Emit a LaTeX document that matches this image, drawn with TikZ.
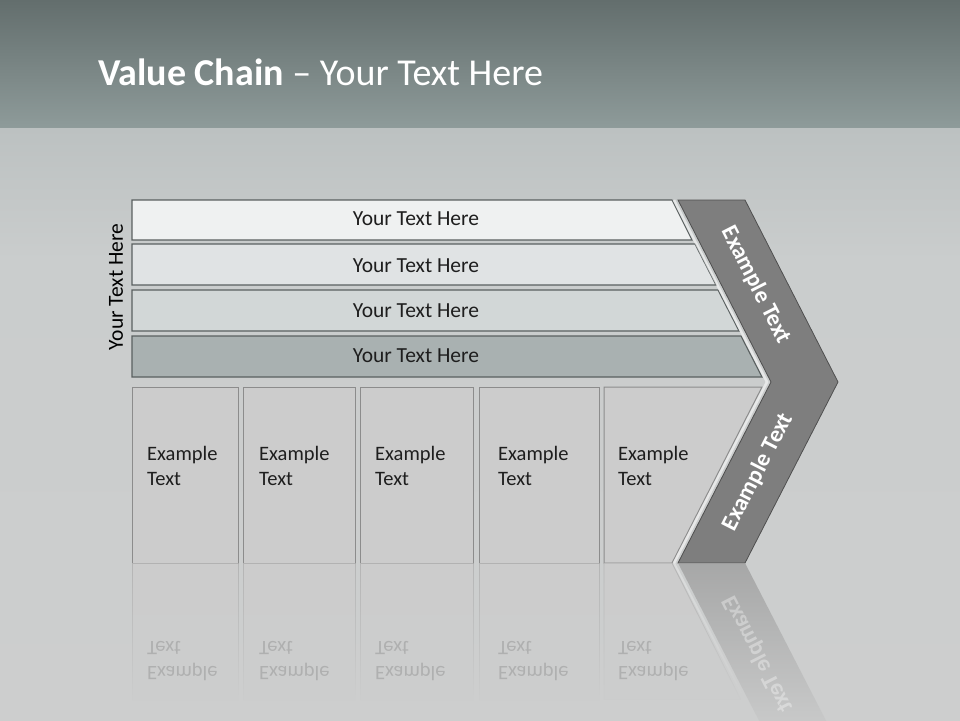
\documentclass[tikz,border=0pt]{standalone}
\usepackage{fontspec}
\setmainfont{Carlito}
\usetikzlibrary{fadings}
\definecolor{bgA}{HTML}{636E6D}
\definecolor{bgB}{HTML}{8E9B9A}
\definecolor{bgC}{HTML}{BCC1C1}
\definecolor{bgD}{HTML}{CACDCD}
\definecolor{bgE}{HTML}{CDCECE}
\definecolor{barline}{HTML}{5A6060}
\definecolor{barA}{HTML}{EFF1F1}
\definecolor{barB}{HTML}{E0E3E4}
\definecolor{barC}{HTML}{D2D7D7}
\definecolor{barD}{HTML}{A9B1B1}
\definecolor{boxfill}{HTML}{CCCCCC}
\definecolor{boxline}{HTML}{8C8C8C}
\definecolor{chev}{HTML}{7E7E7E}
\definecolor{chevline}{HTML}{4F4F4F}
\definecolor{txt}{HTML}{1E1E1E}
\tikzfading[name=reflfade, top color=transparent!20, bottom color=transparent!100]
\begin{document}
\begin{tikzpicture}[x=1pt,y=-1pt,
  bar/.style={draw=barline, line width=1.1pt},
  bartext/.style={font=\fontsize{21.5}{24}\selectfont, text=txt},
  boxshape/.style={fill=boxfill, draw=boxline, line width=1pt},
  boxtext/.style={font=\fontsize{20.5}{25}\selectfont, text=txt, align=left, anchor=base west, inner sep=0pt},
  chevshape/.style={fill=chev, draw=chevline, line width=0.8pt},
  chevtext/.style={font=\bfseries\fontsize{23.5}{26}\selectfont, text=white},
  reflbox/.style={fill=boxfill, draw=boxline!70, line width=0.8pt, path fading=reflfade},
]
\useasboundingbox (0,0) rectangle (960,720);
% background
\shade[top color=bgA, bottom color=bgB] (0,0) rectangle (960,128);
\shade[top color=bgC, bottom color=bgD] (0,128) rectangle (960,260);
\shade[top color=bgD, bottom color=bgE] (0,260) rectangle (960,720);
% title
\node[anchor=base west, text=white, font=\fontsize{38}{42}\selectfont, inner sep=0pt] (title) at (98,85) {\textbf{Value Chain} – Your Text Here};
% side label
\node[rotate=90, font=\fontsize{21.5}{24}\selectfont, text=black] (side) at (116,287) {Your Text Here};
% bars
\path[bar, fill=barA] (132,200) -- (672,200) -- (692,240) -- (132,240) -- cycle;
\path[bar, fill=barB] (132,244) -- (695,244) -- (716,285) -- (132,285) -- cycle;
\path[bar, fill=barC] (132,290) -- (718,290) -- (739,331) -- (132,331) -- cycle;
\path[bar, fill=barD] (132,336) -- (741,336) -- (762,377) -- (132,377) -- cycle;
\node[bartext] (t1) at (416,219) {Your Text Here};
\node[bartext] (t2) at (416,266) {Your Text Here};
\node[bartext] (t3) at (416,311) {Your Text Here};
\node[bartext] (t4) at (416,356) {Your Text Here};
% boxes
\path[boxshape] (132,387) rectangle (238,563);
\path[boxshape] (243,387) rectangle (355,563);
\path[boxshape] (360,387) rectangle (473,563);
\path[boxshape] (479,387) rectangle (599,563);
\path[boxshape] (604,387) -- (762,387) -- (672,563) -- (604,563) -- cycle;
\node[boxtext] (b1) at (147,485) {Example\\Text};
\node[boxtext] (b2) at (259,485) {Example\\Text};
\node[boxtext] (b3) at (375,485) {Example\\Text};
\node[boxtext] (b4) at (498,485) {Example\\Text};
\node[boxtext] (b5) at (618,485) {Example\\Text};
% highlight strip along chevron
\draw[white, opacity=0.55, line width=2.5pt] (674,200) -- (767,382) -- (674,563);
% chevron
\path[chevshape] (678,200) -- (745,200) -- (838,382) -- (745,563) -- (678,563) -- (771,382) -- cycle;
\node[chevtext, rotate=-63] (c1) at (756,285) {Example Text};
\node[chevtext, rotate=63] (c2) at (758,472) {Example Text};
% reflections
\path[reflbox] (132,563) rectangle (238,700);
\path[reflbox] (243,563) rectangle (355,700);
\path[reflbox] (360,563) rectangle (473,700);
\path[reflbox] (479,563) rectangle (599,700);
\path[reflbox] (604,563) -- (672,563) -- (741,700) -- (604,700) -- cycle;
\path[fill=chev!75!white, path fading=reflfade] (678,563) -- (745,563) -- (838,744) -- (771,744) -- cycle;
\draw[white, opacity=0.4, line width=2pt, path fading=reflfade] (674,563) -- (745,700);
\begin{scope}[yshift=-1126pt, yscale=-1, transform shape]
  \node[boxtext, text=black, text opacity=0.14] (r1) at (147,485) {Example\\Text};
  \node[boxtext, text=black, text opacity=0.14] (r2) at (259,485) {Example\\Text};
  \node[boxtext, text=black, text opacity=0.14] (r3) at (375,485) {Example\\Text};
  \node[boxtext, text=black, text opacity=0.14] (r4) at (498,485) {Example\\Text};
  \node[boxtext, text=black, text opacity=0.14] (r5) at (618,485) {Example\\Text};
  \node[chevtext, rotate=63, text opacity=0.35] (rc) at (758,472) {Example Text};
\end{scope}
\end{tikzpicture}
\end{document}
